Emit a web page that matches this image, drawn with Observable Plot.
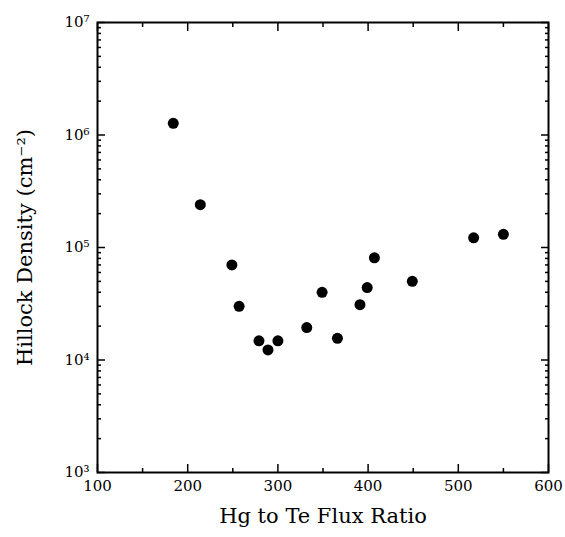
<!DOCTYPE html>
<html><head><meta charset="utf-8">
<script src="https://cdn.jsdelivr.net/npm/d3@7"></script>
<script src="https://cdn.jsdelivr.net/npm/@observablehq/plot@0.6"></script>
<style>body{margin:0;background:#fff}</style>
</head><body><div id="chart"></div>
<script>
const fluxRatio = [184, 214, 249, 257, 279, 289, 300, 332, 349, 366, 391, 399, 407, 449, 517, 550];
const hillockDensity = [1.27e6, 2.4e5, 7.0e4, 3.0e4, 1.48e4, 1.23e4, 1.48e4, 1.94e4, 4.0e4, 1.56e4, 3.1e4, 4.4e4, 8.1e4, 5.0e4, 1.22e5, 1.31e5];
const xMajorTicks = [100, 200, 300, 400, 500, 600];
const xMinorTicks = [150, 250, 350, 450, 550];
const yMajorTicks = [1e3, 1e4, 1e5, 1e6, 1e7];
const yTickLabels = ["10³", "10⁴", "10⁵", "10⁶", "10⁷"];
const yMinorTicks = [1e3, 1e4, 1e5, 1e6].flatMap(p => [2,3,4,5,6,7,8,9].map(m => m * p));
const xTitle = "Hg to Te Flux Ratio";
const yTitle = "Hillock Density (cm⁻²)";

const data = fluxRatio.map((x, i) => ({x, y: hillockDensity[i]}));
const font = "DejaVu Serif";
const blank = () => "";

const chart = Plot.plot({
  width: 565,
  height: 537,
  marginLeft: 97,
  marginTop: 22,
  marginRight: 17,
  marginBottom: 65,
  style: {fontFamily: font, fontSize: "15px", background: "#fff", color: "#000"},
  x: {domain: [100, 600], axis: null},
  y: {type: "log", domain: [1e3, 1e7], axis: null},
  marks: [
    Plot.axisX(xMajorTicks, {anchor: "bottom", tickSize: -8, tickPadding: 16, strokeWidth: 1.5, label: null, tickFormat: d => String(d), fontSize: 15}),
    Plot.axisX(xMajorTicks, {anchor: "top", tickSize: -8, strokeWidth: 1.5, label: null, tickFormat: blank}),
    Plot.axisX(xMinorTicks, {anchor: "bottom", tickSize: -4, strokeWidth: 1.5, label: null, tickFormat: blank}),
    Plot.axisX(xMinorTicks, {anchor: "top", tickSize: -4, strokeWidth: 1.5, label: null, tickFormat: blank}),
    Plot.axisY(yMajorTicks, {anchor: "left", tickSize: -8, tickPadding: 16, strokeWidth: 1.5, label: null, tickFormat: d => yTickLabels[yMajorTicks.indexOf(d)], fontSize: 15}),
    Plot.axisY(yMajorTicks, {anchor: "right", tickSize: -8, strokeWidth: 1.5, label: null, tickFormat: blank}),
    Plot.axisY(yMinorTicks, {anchor: "left", tickSize: -4, strokeWidth: 1.5, label: null, tickFormat: blank}),
    Plot.axisY(yMinorTicks, {anchor: "right", tickSize: -4, strokeWidth: 1.5, label: null, tickFormat: blank}),
    Plot.frame({stroke: "#000", strokeWidth: 2}),
    Plot.dot(data, {x: "x", y: "y", r: 5.5, fill: "#000", stroke: "none"}),
    Plot.text([xTitle], {frameAnchor: "bottom", dy: 50, fontSize: 21, text: d => d}),
    Plot.text([yTitle], {frameAnchor: "left", dx: -72, rotate: -90, textAnchor: "middle", fontSize: 21, text: d => d})
  ]
});
document.getElementById("chart").appendChild(chart);
</script>
</body></html>
